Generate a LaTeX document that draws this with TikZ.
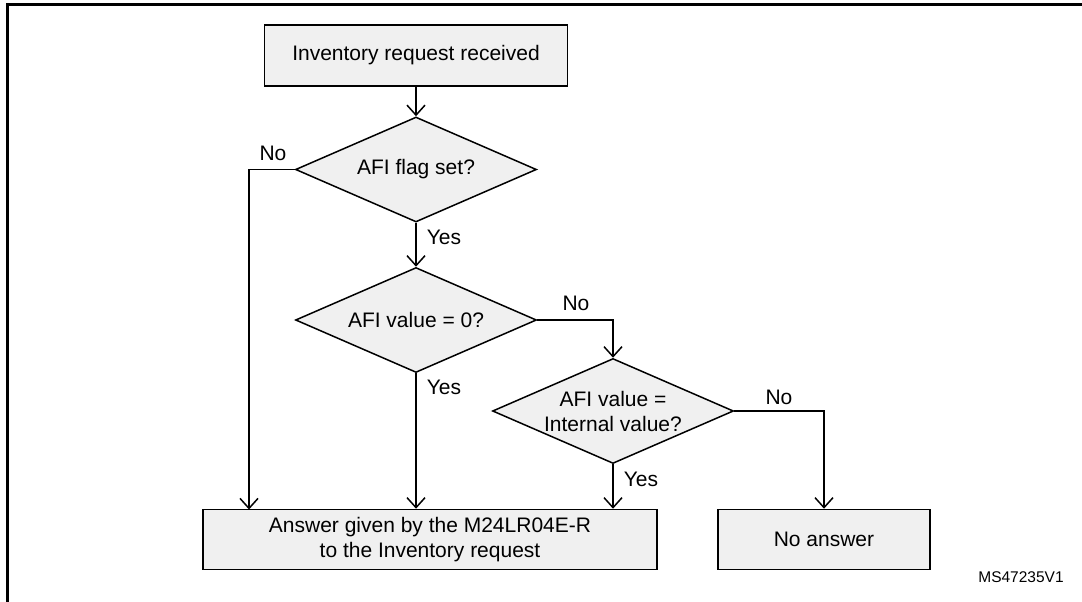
\documentclass[tikz,border=0pt]{standalone}
\usepackage{fontspec}
\setmainfont{Liberation Sans}
\usetikzlibrary{shapes.geometric,arrows.meta}
\definecolor{boxgray}{HTML}{F0F0F0}
\tikzset{
  procbox/.style={draw, line width=1.5pt, fill=boxgray, inner sep=0pt, align=center},
  decision/.style={diamond, aspect=2.3, draw, line width=1.5pt, fill=boxgray, inner sep=0pt,
    minimum width=241pt, minimum height=105pt, align=center},
  arr/.style={line width=1.5pt, -{Straight Barb[length=10pt,width=18pt,line width=1.5pt]}},
  lbl/.style={inner sep=0pt}
}
\begin{document}
\begin{tikzpicture}[x=1pt,y=-1pt,font=\fontsize{21}{25}\selectfont]
  \useasboundingbox (0,0) rectangle (1082,602);
  \draw[line width=2.5pt] (7.5,602) -- (7.5,4.5) -- (1082,4.5);

  \node[procbox, minimum width=303pt, minimum height=61pt] (recv) at (416,55.5) {Inventory request received};
  \node[decision] (flag) at (416,169.5) {AFI flag set?};
  \node[decision] (zero) at (416,320) {AFI value = 0?};
  \node[decision] (intern) at (613,411) {AFI value =\\Internal value?};
  \node[procbox, minimum width=454pt, minimum height=60pt] (answer) at (430,539.5) {Answer given by the M24LR04E-R\\to the Inventory request};
  \node[procbox, minimum width=212pt, minimum height=60pt] (noans) at (824,539.5) {No answer};
  \coordinate (ansleft) at (249,509.5);

  % connectors
  \draw[arr] (recv) -- (flag);
  \draw[arr] (flag) -- (zero);
  \draw[arr] (flag.west) -| (ansleft);
  \draw[arr] (zero) -- (zero |- answer.north);
  \draw[arr] (zero.east) -| (intern.north);
  \draw[arr] (intern) -- (intern |- answer.north);
  \draw[arr] (intern.east) -| (noans.north);

  % branch labels
  \node[lbl] (noflag) at (273,153) {No};
  \node[lbl] (yesflag) at (444,237) {Yes};
  \node[lbl] (nozero) at (576,303) {No};
  \node[lbl] (yeszero) at (444,387) {Yes};
  \node[lbl] (nointern) at (779,397) {No};
  \node[lbl] (yesintern) at (641,479) {Yes};

  \node[lbl, font=\fontsize{15.5}{18}\selectfont] (msref) at (1021,577) {MS47235V1};
\end{tikzpicture}
\end{document}
